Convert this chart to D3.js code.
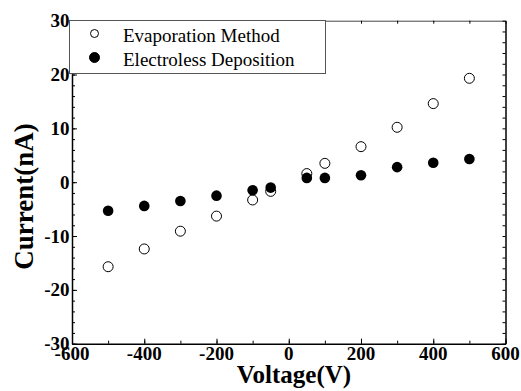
<!DOCTYPE html>
<html lang="en">
<meta charset="utf-8">
<head>
    <title>Current vs Voltage</title>
    <script src="https://d3js.org/d3.v7.min.js"></script>
    <style>
        body { margin: 0; background: #fff; }
        .serif { font-family: "Liberation Serif", "Times New Roman", serif; fill: #000; }
        .bold { font-weight: bold; }
        .tick-label { font-size: 19px; }
        .legend text { font-size: 19px; }
    </style>
</head>
<body>
<div id="chart"></div>
<script>
    // values
    let voltages = [-500, -400, -300, -200, -100, -50, 50, 100, 200, 300, 400, 500];
    let evaporation = [-15.7, -12.4, -9.1, -6.3, -3.3, -1.7, 1.6, 3.5, 6.6, 10.2, 14.6, 19.3];
    let electroless = [-5.3, -4.4, -3.5, -2.5, -1.5, -1.0, 0.8, 0.8, 1.3, 2.8, 3.6, 4.3];
    let seriesNames = ["Evaporation Method", "Electroless Deposition"];
    let xTicks = [-600, -400, -200, 0, 200, 400, 600];
    let yTicks = [-30, -20, -10, 0, 10, 20, 30];

    let W = 521, H = 391;
    let margin = {top: 20.7, right: 15.5, bottom: 47.3, left: 72}
        , width = W - margin.left - margin.right
        , height = H - margin.top - margin.bottom;

    let xScale = d3.scaleLinear().domain([-600, 600]).range([0, width]);
    let yScale = d3.scaleLinear().domain([-30, 30]).range([height, 0]);

    let minorX = d3.range(-600, 601, 100);
    let minorY = d3.range(-30, 31, 2);

    function buildChart() {
        let svg = d3.select("#chart").append("svg")
            .attr("width", W)
            .attr("height", H)
            .append("g")
            .attr("transform", "translate(" + margin.left + "," + margin.top + ")");

        // minor ticks (inward, no labels)
        svg.append("g")
            .attr("transform", "translate(0," + height + ")")
            .call(d3.axisBottom(xScale).tickValues(minorX).tickSize(-3).tickSizeOuter(0).tickFormat(""))
            .call(g => g.select(".domain").remove());
        svg.append("g")
            .call(d3.axisLeft(yScale).tickValues(minorY).tickSize(-3).tickSizeOuter(0).tickFormat(""))
            .call(g => g.select(".domain").remove());

        // top and right frame
        svg.append("g")
            .call(d3.axisTop(xScale).tickValues(minorX).tickSize(-3).tickSizeOuter(0).tickFormat(""))
            .call(g => g.select(".domain").attr("stroke", "#444").attr("stroke-width", 1));
        svg.append("g")
            .attr("transform", "translate(" + width + ",0)")
            .call(d3.axisRight(yScale).tickValues(minorY).tickSize(-3).tickSizeOuter(0).tickFormat(""))
            .call(g => g.select(".domain").attr("stroke-width", 1.5));

        // major axes
        svg.append("g")
            .attr("class", "x axis")
            .attr("transform", "translate(0," + height + ")")
            .call(d3.axisBottom(xScale).tickValues(xTicks).tickSize(-5).tickSizeOuter(0).tickFormat(""))
            .call(g => g.select(".domain").attr("stroke-width", 1.5));
        svg.append("g")
            .attr("class", "y axis")
            .call(d3.axisLeft(yScale).tickValues(yTicks).tickSize(-5).tickSizeOuter(0).tickFormat(""))
            .call(g => g.select(".domain").attr("stroke-width", 1.5));

        // tick labels
        svg.append("g").selectAll("text")
            .data(xTicks)
            .enter().append("text")
            .attr("class", "serif bold tick-label")
            .attr("x", d => xScale(d))
            .attr("y", height + 16.5)
            .attr("text-anchor", "middle")
            .text(d => d);
        svg.append("g").selectAll("text")
            .data(yTicks)
            .enter().append("text")
            .attr("class", "serif bold tick-label")
            .attr("x", -2.5)
            .attr("y", d => yScale(d) + 6.5)
            .attr("text-anchor", "end")
            .text(d => d);

        svg.append("text")
            .attr("class", "serif bold")
            .attr("x", 294 - margin.left)
            .attr("y", 383 - margin.top)
            .attr("text-anchor", "middle")
            .style("font-size", "25px")
            .text("Voltage(V)");
        svg.append("text")
            .attr("class", "serif bold")
            .attr("transform", "translate(" + (33 - margin.left) + "," + (196.5 - margin.top) + ") rotate(-90)")
            .attr("text-anchor", "middle")
            .style("font-size", "27px")
            .text("Current(nA)");

        // points
        svg.append("g").selectAll("circle")
            .data(voltages.map((v, i) => ({x: v, y: electroless[i]})))
            .enter().append("circle")
            .attr("cx", d => xScale(d.x))
            .attr("cy", d => yScale(d.y))
            .attr("r", 5.3)
            .attr("fill", "#000");
        svg.append("g").selectAll("circle")
            .data(voltages.map((v, i) => ({x: v, y: evaporation[i]})))
            .enter().append("circle")
            .attr("cx", d => xScale(d.x))
            .attr("cy", d => yScale(d.y))
            .attr("r", 5)
            .attr("fill", "none")
            .attr("stroke", "#000")
            .attr("stroke-width", 1);

        // legend box
        let legend = svg.append("g")
            .attr("class", "legend serif")
            .attr("transform", "translate(" + (69.5 - margin.left) + "," + (20.5 - margin.top) + ")");
        legend.append("rect")
            .attr("width", 256)
            .attr("height", 53)
            .attr("fill", "#fff")
            .attr("stroke", "#555")
            .attr("stroke-width", 1);
        let rows = legend.selectAll(".row")
            .data(seriesNames)
            .enter().append("g")
            .attr("class", "row")
            .attr("transform", (d, i) => "translate(0," + (13 + i * 24) + ")");
        rows.append("circle")
            .attr("cx", 25)
            .attr("cy", 0)
            .attr("r", (d, i) => i == 0 ? 4 : 5)
            .attr("fill", (d, i) => i == 0 ? "#fff" : "#000")
            .attr("stroke", "#000")
            .attr("stroke-width", 1);
        rows.append("text")
            .attr("class", "serif")
            .attr("x", 53.5)
            .attr("y", 8)
            .text(d => d);
    }//buildChart()

    buildChart();
</script>
</body>
</html>
